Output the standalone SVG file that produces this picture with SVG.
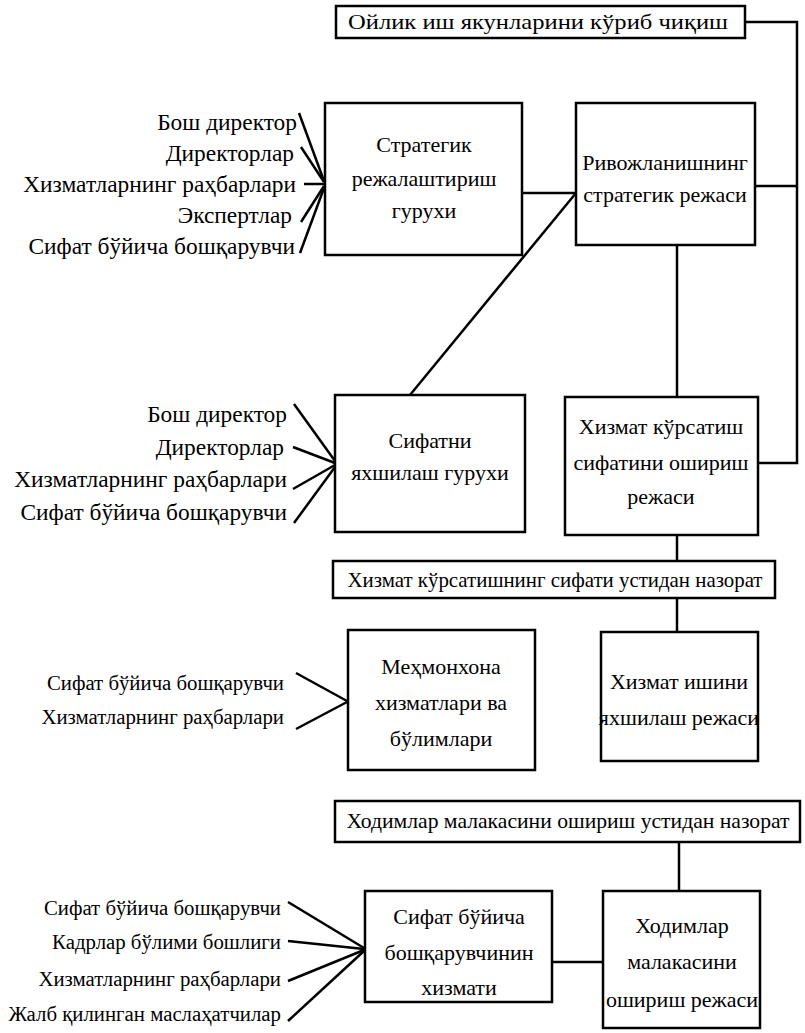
<svg xmlns="http://www.w3.org/2000/svg" width="805" height="1033" viewBox="0 0 805 1033">
<rect width="805" height="1033" fill="#fff"/>
<g id="connectors" fill="none" stroke="#000" stroke-width="2.5">
<polyline points="745,22 797,22 797,463 758,463"/>
<line x1="755" y1="186" x2="797" y2="186"/>
<line x1="522" y1="193" x2="576" y2="193"/>
<line x1="576" y1="193" x2="410" y2="395"/>
<line x1="677" y1="245" x2="677" y2="397"/>
<line x1="677" y1="535" x2="677" y2="561"/>
<line x1="677" y1="598" x2="677" y2="632"/>
<line x1="679" y1="842" x2="679" y2="891"/>
<line x1="552" y1="962" x2="603" y2="962"/>
<line x1="299" y1="113" x2="324" y2="181"/>
<line x1="301" y1="147" x2="324" y2="182"/>
<line x1="304" y1="184" x2="324" y2="184"/>
<line x1="301" y1="222" x2="324" y2="186"/>
<line x1="300" y1="253" x2="324" y2="188"/>
<line x1="294" y1="404" x2="335" y2="461"/>
<line x1="293" y1="447" x2="335" y2="463"/>
<line x1="293" y1="489" x2="335" y2="465"/>
<line x1="294" y1="523" x2="335" y2="467"/>
<line x1="296" y1="673" x2="347" y2="701"/>
<line x1="296" y1="729" x2="347" y2="702"/>
<line x1="288" y1="902" x2="364" y2="948"/>
<line x1="288" y1="941" x2="364" y2="949"/>
<line x1="288" y1="981" x2="364" y2="950"/>
<line x1="288" y1="1021" x2="364" y2="951"/>
</g>
<g id="boxes" fill="#fff" stroke="#000" stroke-width="2.5">
<rect id="b_review" x="336" y="6" width="409" height="32"/>
<rect id="b_stratgroup" x="325" y="103" width="197" height="152"/>
<rect id="b_stratplan" x="576" y="103" width="179" height="142"/>
<rect id="b_qualgroup" x="335" y="395" width="190" height="137"/>
<rect id="b_qualplan" x="565" y="397" width="193" height="138"/>
<rect id="b_control1" x="333" y="561" width="442" height="37"/>
<rect id="b_hotel" x="348" y="630" width="187" height="140"/>
<rect id="b_workplan" x="601" y="632" width="157" height="129"/>
<rect id="b_control2" x="335" y="801" width="465" height="41"/>
<rect id="b_qualservice" x="365" y="891" width="187" height="111"/>
<rect id="b_staffplan" x="603" y="891" width="157" height="137"/>
</g>
<g fill="#000">
<g id="n_review" text-anchor="middle">
<text x="538" y="29" font-family="Liberation Serif" font-size="22" style="font-family:Liberation Serif,serif" textLength="380" lengthAdjust="spacingAndGlyphs">Ойлик иш якунларини кўриб чиқиш</text>
</g>
<g id="n_stratgroup" text-anchor="middle">
<text x="424" y="152" font-family="Liberation Serif" font-size="22" style="font-family:Liberation Serif,serif">Стратегик</text>
<text x="424" y="186" font-family="Liberation Serif" font-size="22" style="font-family:Liberation Serif,serif">режалаштириш</text>
<text x="424" y="218" font-family="Liberation Serif" font-size="22" style="font-family:Liberation Serif,serif">гурухи</text>
</g>
<g id="n_stratplan" text-anchor="middle">
<text x="665" y="170" font-family="Liberation Serif" font-size="22" style="font-family:Liberation Serif,serif">Ривожланишнинг</text>
<text x="665" y="202" font-family="Liberation Serif" font-size="22" style="font-family:Liberation Serif,serif">стратегик режаси</text>
</g>
<g id="n_labels1" text-anchor="end">
<text x="297" y="130" font-family="Liberation Serif" font-size="23.4" style="font-family:Liberation Serif,serif">Бош директор</text>
<text x="294" y="161" font-family="Liberation Serif" font-size="23.4" style="font-family:Liberation Serif,serif">Директорлар</text>
<text x="296" y="192" font-family="Liberation Serif" font-size="23.4" style="font-family:Liberation Serif,serif">Хизматларнинг раҳбарлари</text>
<text x="292" y="223" font-family="Liberation Serif" font-size="23.4" style="font-family:Liberation Serif,serif">Экспертлар</text>
<text x="295" y="254" font-family="Liberation Serif" font-size="23.4" style="font-family:Liberation Serif,serif">Сифат бўйича бошқарувчи</text>
</g>
<g id="n_qualgroup" text-anchor="middle">
<text x="430" y="448" font-family="Liberation Serif" font-size="22" style="font-family:Liberation Serif,serif">Сифатни</text>
<text x="430" y="480" font-family="Liberation Serif" font-size="22" style="font-family:Liberation Serif,serif">яхшилаш гурухи</text>
</g>
<g id="n_qualplan" text-anchor="middle">
<text x="661" y="434" font-family="Liberation Serif" font-size="22" style="font-family:Liberation Serif,serif">Хизмат кўрсатиш</text>
<text x="661" y="470" font-family="Liberation Serif" font-size="22" style="font-family:Liberation Serif,serif">сифатини ошириш</text>
<text x="661" y="504" font-family="Liberation Serif" font-size="22" style="font-family:Liberation Serif,serif">режаси</text>
</g>
<g id="n_labels2" text-anchor="end">
<text x="287" y="422" font-family="Liberation Serif" font-size="23.4" style="font-family:Liberation Serif,serif">Бош директор</text>
<text x="284" y="455" font-family="Liberation Serif" font-size="23.4" style="font-family:Liberation Serif,serif">Директорлар</text>
<text x="287" y="487" font-family="Liberation Serif" font-size="23.4" style="font-family:Liberation Serif,serif">Хизматларнинг раҳбарлари</text>
<text x="287" y="520" font-family="Liberation Serif" font-size="23.4" style="font-family:Liberation Serif,serif">Сифат бўйича бошқарувчи</text>
</g>
<g id="n_control1" text-anchor="middle">
<text x="555" y="587" font-family="Liberation Serif" font-size="22" style="font-family:Liberation Serif,serif" textLength="415" lengthAdjust="spacingAndGlyphs">Хизмат кўрсатишнинг сифати устидан назорат</text>
</g>
<g id="n_hotel" text-anchor="middle">
<text x="441" y="674" font-family="Liberation Serif" font-size="22" style="font-family:Liberation Serif,serif">Меҳмонхона</text>
<text x="441" y="710" font-family="Liberation Serif" font-size="22" style="font-family:Liberation Serif,serif">хизматлари ва</text>
<text x="441" y="746" font-family="Liberation Serif" font-size="22" style="font-family:Liberation Serif,serif">бўлимлари</text>
</g>
<g id="n_workplan" text-anchor="middle">
<text x="679" y="689" font-family="Liberation Serif" font-size="22" style="font-family:Liberation Serif,serif">Хизмат ишини</text>
<text x="679" y="725" font-family="Liberation Serif" font-size="22" style="font-family:Liberation Serif,serif">яхшилаш режаси</text>
</g>
<g id="n_labels3" text-anchor="end">
<text x="284" y="690" font-family="Liberation Serif" font-size="20.8" style="font-family:Liberation Serif,serif">Сифат бўйича бошқарувчи</text>
<text x="284" y="724" font-family="Liberation Serif" font-size="20.8" style="font-family:Liberation Serif,serif">Хизматларнинг раҳбарлари</text>
</g>
<g id="n_control2" text-anchor="middle">
<text x="568" y="828" font-family="Liberation Serif" font-size="22" style="font-family:Liberation Serif,serif" textLength="443" lengthAdjust="spacingAndGlyphs">Ходимлар малакасини ошириш устидан назорат</text>
</g>
<g id="n_qualservice" text-anchor="middle">
<text x="459" y="924" font-family="Liberation Serif" font-size="22" style="font-family:Liberation Serif,serif">Сифат бўйича</text>
<text x="459" y="960" font-family="Liberation Serif" font-size="22" style="font-family:Liberation Serif,serif">бошқарувчинин</text>
<text x="459" y="995" font-family="Liberation Serif" font-size="22" style="font-family:Liberation Serif,serif">хизмати</text>
</g>
<g id="n_staffplan" text-anchor="middle">
<text x="682" y="933" font-family="Liberation Serif" font-size="22" style="font-family:Liberation Serif,serif">Ходимлар</text>
<text x="682" y="969" font-family="Liberation Serif" font-size="22" style="font-family:Liberation Serif,serif">малакасини</text>
<text x="682" y="1007" font-family="Liberation Serif" font-size="22" style="font-family:Liberation Serif,serif">ошириш режаси</text>
</g>
<g id="n_labels4" text-anchor="end">
<text x="281" y="915" font-family="Liberation Serif" font-size="20.8" style="font-family:Liberation Serif,serif">Сифат бўйича бошқарувчи</text>
<text x="281" y="949" font-family="Liberation Serif" font-size="20.8" style="font-family:Liberation Serif,serif">Кадрлар бўлими бошлиги</text>
<text x="281" y="986" font-family="Liberation Serif" font-size="20.8" style="font-family:Liberation Serif,serif">Хизматларнинг раҳбарлари</text>
<text x="281" y="1021" font-family="Liberation Serif" font-size="20.8" style="font-family:Liberation Serif,serif">Жалб қилинган маслаҳатчилар</text>
</g>
</g>
</svg>
